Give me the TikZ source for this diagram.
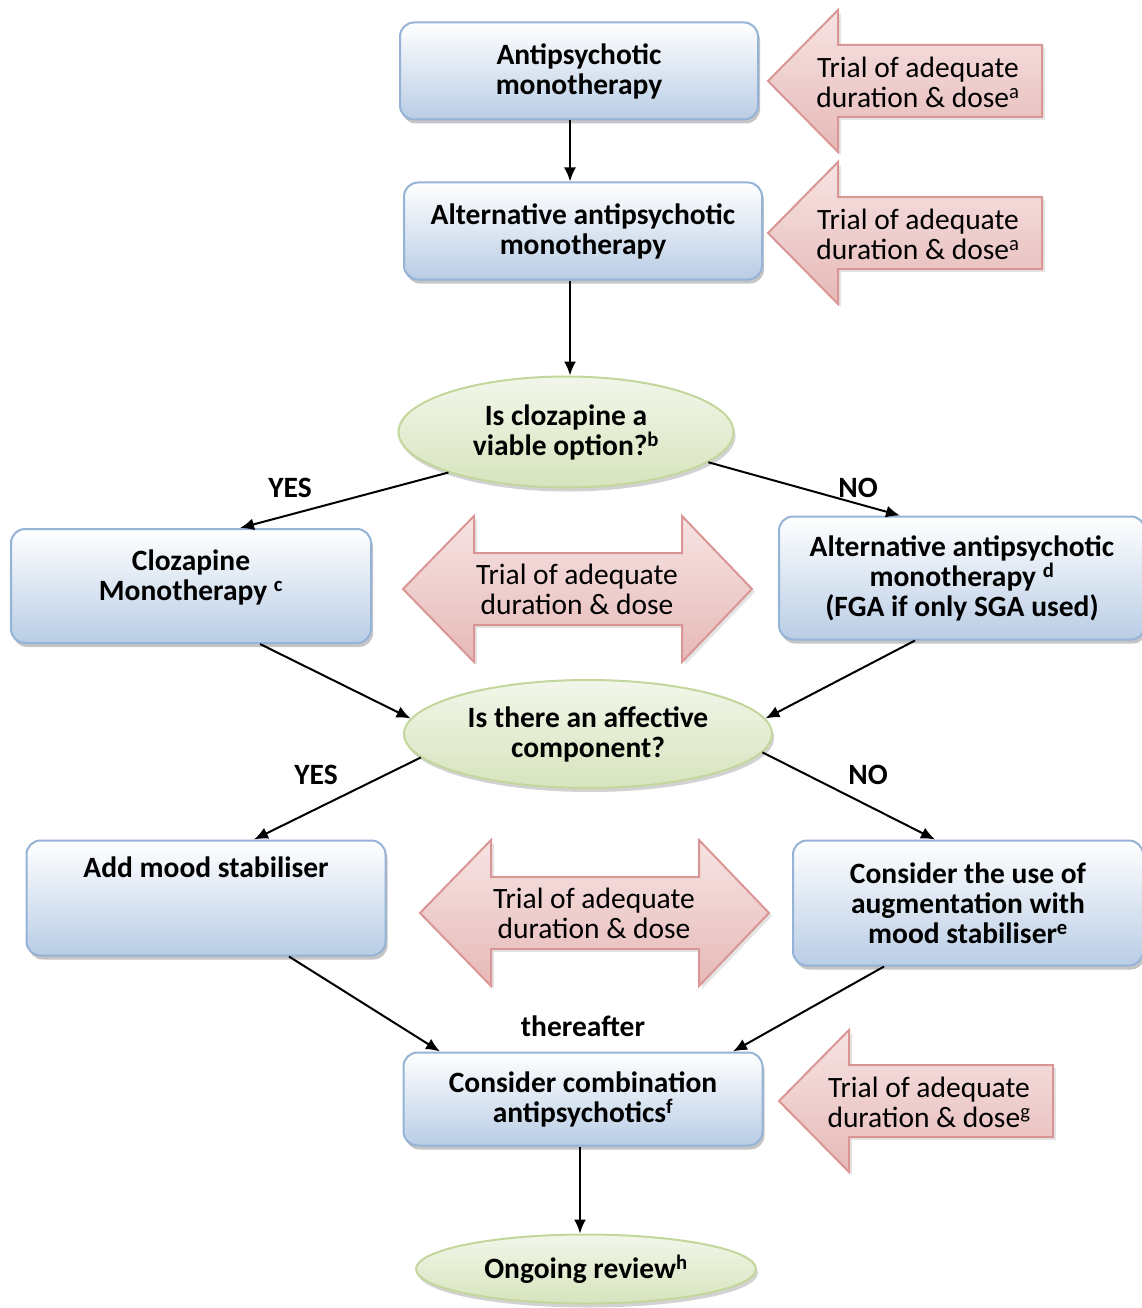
\documentclass[tikz,border=0pt]{standalone}
\usepackage{fontspec}
\setmainfont{Carlito}
\usetikzlibrary{arrows.meta,calc,shadows,shapes.geometric}

\definecolor{boxline}{RGB}{149,179,215}
\definecolor{boxlow}{RGB}{185,205,229}
\definecolor{ovalline}{RGB}{195,214,155}
\definecolor{ovaltop}{RGB}{242,246,234}
\definecolor{ovallow}{RGB}{215,228,189}
\definecolor{trialline}{RGB}{217,150,148}
\definecolor{trialtop}{RGB}{246,228,227}
\definecolor{triallow}{RGB}{230,185,184}

\begin{document}
\begin{tikzpicture}[x=1pt,y=-1pt,>={Latex[length=14pt,width=12pt]},
  box/.style={draw=boxline,line width=2pt,rounded corners=14pt,top color=white,bottom color=boxlow,
    drop shadow={shadow xshift=2pt,shadow yshift=-4pt,fill=black!45},
    font=\fontsize{29.5}{30}\selectfont\bfseries,align=center,inner sep=0pt},
  oval/.style={ellipse,draw=ovalline,line width=2pt,top color=ovaltop,bottom color=ovallow,
    drop shadow={shadow xshift=2pt,shadow yshift=-4pt,fill=black!35},
    font=\fontsize{29.5}{30}\selectfont\bfseries,align=center,inner sep=0pt},
  trial/.style={draw=trialline,line width=2pt,top color=trialtop,bottom color=triallow,
    drop shadow={shadow xshift=3pt,shadow yshift=-3pt,fill=black!20}},
  trialtxt/.style={font=\fontsize{29.5}{30}\selectfont,align=center},
  lbl/.style={font=\fontsize{29.5}{30}\selectfont\bfseries},
  arr/.style={->,line width=2pt}]
  \useasboundingbox (0,0) rectangle (1142,1308);

  % single block arrows pointing at the boxes
  \foreach \tx/\ty/\fn/\nm in {768/81/a/ta,768/233/a/tb,779/1101/g/tc}{
    \filldraw[trial] (\tx,\ty) -- ++(70,-71) -- ++(0,35) -- ++(204,0) -- ++(0,72)
      -- ++(-204,0) -- ++(0,35) -- cycle;
    \node[trialtxt] (\nm) at (\tx+150,\ty+1) {Trial of adequate\\duration \& dose\textsuperscript{\fn}};
  }
  % double block arrows between the branches
  \foreach \tx/\ty/\nm in {403/589/da,420/913/db}{
    \filldraw[trial] (\tx,\ty) -- ++(71,-73) -- ++(0,37) -- ++(208,0) -- ++(0,-37)
      -- ++(70,73) -- ++(-70,73) -- ++(0,-37) -- ++(-208,0) -- ++(0,37) -- cycle;
    \node[trialtxt] (\nm) at (\tx+174,\ty) {Trial of adequate\\duration \& dose};
  }

  \node[box,minimum width=358,minimum height=97] (first) at (579,71) {Antipsychotic\\monotherapy};
  \node[box,minimum width=358,minimum height=97] (second) at (583,231) {Alternative antipsychotic\\monotherapy};
  \node[oval,minimum width=335,minimum height=111] (cloz) at (566,432) {Is clozapine a\\viable option?\textsuperscript{b}};
  \node[box,minimum width=360,minimum height=114] (clozmono) at (191,586)
    {Clozapine\\Monotherapy \textsuperscript{c}\\[-9pt]\mbox{}};
  \node[box,minimum width=366,minimum height=123] (altmono) at (962,578)
    {Alternative antipsychotic\\monotherapy \textsuperscript{d}\\(FGA if only SGA used)};
  \node[oval,minimum width=368,minimum height=108] (affect) at (588,734) {Is there an affective\\component?};
  \node[box,minimum width=359,minimum height=115] (mood) at (206,898) {};
  \node[lbl] (moodtxt) at ([yshift=-28]mood.north) {Add mood stabiliser};
  \node[box,minimum width=350,minimum height=125] (augment) at (968,903)
    {Consider the use of\\augmentation with\\mood stabiliser\textsuperscript{e}};
  \node[box,minimum width=359,minimum height=93] (combo) at (583,1099)
    {Consider combination\\antipsychotics\textsuperscript{f}};
  \node[oval,minimum width=340,minimum height=69] (review) at (586,1269) {Ongoing review\textsuperscript{h}};

  \node[lbl] (yesa) at (290,488) {YES};
  \node[lbl] (noa) at (858,488) {NO};
  \node[lbl] (yesb) at (316,775) {YES};
  \node[lbl] (nob) at (868,775) {NO};
  \node[lbl] (after) at (583,1026) {thereafter};

  \draw[arr] ([xshift=-9]first.south) -- ([xshift=-13]second.north);
  \draw[arr] ([xshift=-13]second.south) -- ([xshift=4]cloz.north);
  \draw[arr] (cloz.199) -- ([xshift=49]clozmono.north);
  \draw[arr] (cloz.348) -- ([xshift=-62]altmono.north);
  \draw[arr] ([xshift=69]clozmono.south) -- (affect.175);
  \draw[arr] ([xshift=-47]altmono.south) -- (affect.5);
  \draw[arr] (affect.188) -- ([xshift=48]mood.north);
  \draw[arr] (affect.354) -- ([xshift=-33]augment.north);
  \draw[arr] ([xshift=83]mood.south) -- ([xshift=-143]combo.north);
  \draw[arr] ([xshift=-84]augment.south) -- ([xshift=150]combo.north);
  \draw[arr] ([xshift=-3]combo.south) -- ([xshift=-6]review.north);
\end{tikzpicture}
\end{document}
